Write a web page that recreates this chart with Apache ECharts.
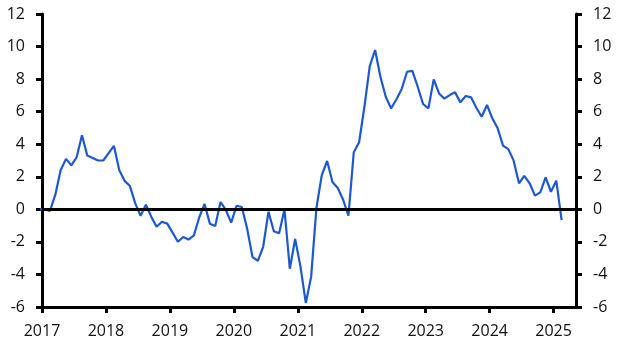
<!DOCTYPE html>
<html>
<head>
<meta charset="utf-8">
<script src="https://cdn.jsdelivr.net/npm/echarts@6/dist/echarts.min.js"></script>
<style>
html,body{margin:0;padding:0;background:#fff;}
#chart{width:629px;height:354px;}
</style>
</head>
<body>
<div id="chart"></div>
<script>
// Monthly values, Dec 2016 .. Feb 2025
const startYear = 2016;
const startMonth = 12; // December
const values = [
  0.0,
  0.0, -0.1, 0.9, 2.4, 3.1, 2.7, 3.2, 4.55, 3.3, 3.15, 3.0, 3.0,
  3.45, 3.9, 2.4, 1.75, 1.43, 0.37, -0.4, 0.28, -0.45, -1.07, -0.76, -0.88,
  -1.43, -1.99, -1.7, -1.86, -1.6, -0.5, 0.33, -0.88, -1.02, 0.45, -0.04, -0.82,
  0.22, 0.14, -1.2, -2.93, -3.16, -2.3, -0.15, -1.35, -1.47, 0.0, -3.65, -1.82,
  -3.52, -5.75, -4.15, 0.1, 2.1, 2.97, 1.68, 1.31, 0.59, -0.39, 3.5, 4.12,
  6.3, 8.8, 9.79, 8.15, 6.92, 6.2, 6.75, 7.4, 8.45, 8.51, 7.53, 6.47,
  6.2, 7.98, 7.12, 6.8, 7.02, 7.19, 6.57, 6.96, 6.88, 6.24, 5.69, 6.41,
  5.59, 4.98, 3.91, 3.7, 2.99, 1.6, 2.06, 1.6, 0.84, 1.04, 1.97, 1.08,
  1.76, -0.66
];
const xTicks = [2017, 2018, 2019, 2020, 2021, 2022, 2023, 2024, 2025];
const yTicks = [-6, -4, -2, 0, 2, 4, 6, 8, 10, 12];

// Each month plotted at mid-month on a decimal-year axis
const data = values.map(function (v, i) {
  const m = startMonth - 1 + i;
  const x = startYear + Math.floor(m / 12) + ((m % 12) + 0.5) / 12;
  return [x, v];
});

const font = '"Open Sans", "Noto Sans", sans-serif';
const axisLine = { show: true, onZero: false, lineStyle: { color: '#000', width: 3 } };
const axisTick = { show: true, length: 6, lineStyle: { color: '#000', width: 3 } };

function yAxis(pos) {
  return {
    type: 'value', position: pos, min: -6, max: 12, interval: 2,
    axisLine: axisLine, axisTick: axisTick,
    splitLine: { show: false },
    axisLabel: { color: '#111', fontSize: 16, fontFamily: font, margin: 17 }
  };
}

const chart = echarts.init(document.getElementById('chart'), null, { renderer: 'canvas' });
chart.setOption({
  animation: false,
  backgroundColor: '#fff',
  grid: { left: 42, right: 53, top: 14, bottom: 47, containLabel: false },
  xAxis: {
    type: 'value', min: 2017, max: 2025.35,
    axisLine: axisLine,
    axisTick: Object.assign({ customValues: xTicks }, axisTick),
    splitLine: { show: false },
    axisLabel: { customValues: xTicks, color: '#111', fontSize: 16, fontFamily: font, margin: 16,
      formatter: function (v) { return String(Math.round(v)); } }
  },
  yAxis: [yAxis('left'), yAxis('right')],
  series: [{
    type: 'line', data: data, yAxisIndex: 0,
    showSymbol: false, symbol: 'none', clip: true,
    lineStyle: { color: '#1c59d0', width: 2.2 },
    markLine: {
      silent: true, symbol: 'none', label: { show: false },
      lineStyle: { color: '#000', width: 3, type: 'solid' },
      data: [{ yAxis: 0 }]
    }
  }]
});
</script>
</body>
</html>
